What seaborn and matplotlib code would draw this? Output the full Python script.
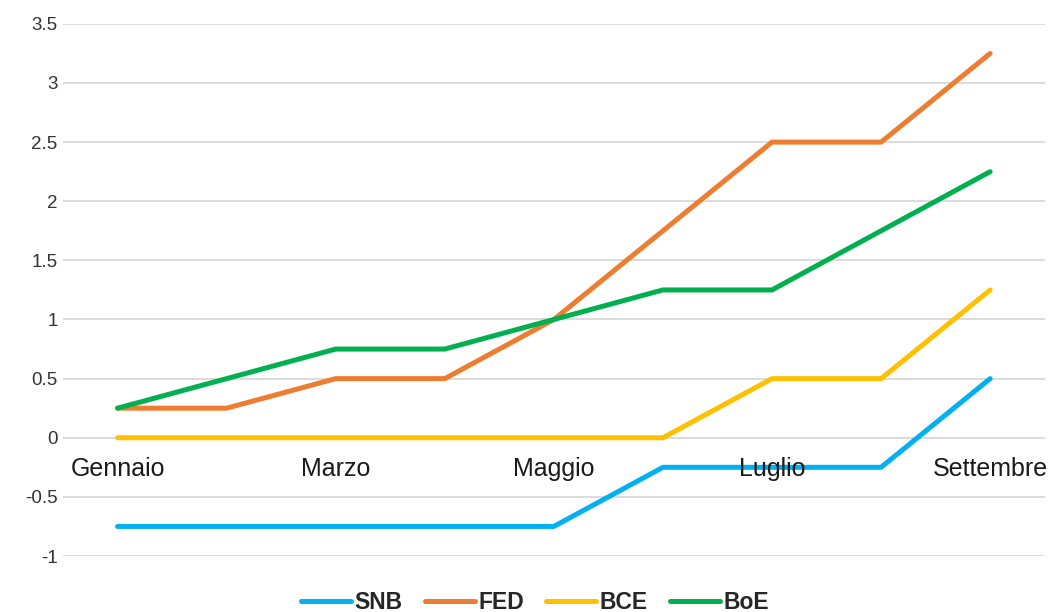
import matplotlib
matplotlib.use("Agg")
import matplotlib.pyplot as plt
import pandas as pd
import seaborn as sns

# monthly policy rates (%)
mesi = ["Gennaio", "Febbraio", "Marzo", "Aprile", "Maggio", "Giugno", "Luglio", "Agosto", "Settembre"]
snb = [-0.75, -0.75, -0.75, -0.75, -0.75, -0.25, -0.25, -0.25, 0.5]
fed = [0.25, 0.25, 0.5, 0.5, 1.0, 1.75, 2.5, 2.5, 3.25]
bce = [0, 0, 0, 0, 0, 0, 0.5, 0.5, 1.25]
boe = [0.25, 0.5, 0.75, 0.75, 1.0, 1.25, 1.25, 1.75, 2.25]
serie = ["SNB", "FED", "BCE", "BoE"]
colori = ["#00B0F0", "#ED7D31", "#FFC000", "#00B050"]
etichette_x = ["Gennaio", "", "Marzo", "", "Maggio", "", "Luglio", "", "Settembre"]

rows = []
for nome, vals in zip(serie, [snb, fed, bce, boe]):
    for i, v in enumerate(vals):
        rows.append({"pos": i, "mese": mesi[i], "tasso": v, "banca": nome})
df = pd.DataFrame(rows)

sns.set_theme(style="white")
plt.rcParams["font.family"] = ["Liberation Sans", "DejaVu Sans"]

fig = plt.figure(figsize=(10.51, 6.12), dpi=100)
ax = fig.add_axes([0.06, 0.0915, 0.934, 0.8695])

sns.lineplot(data=df, x="pos", y="tasso", hue="banca", palette=colori,
             hue_order=serie, sort=False, linewidth=3.6, ax=ax, legend=False,
             solid_capstyle="round", solid_joinstyle="round")

ax.set_xlim(-0.5, 8.5)
ax.set_ylim(-1, 3.5)
yt = [-1 + 0.5 * k for k in range(10)]
ax.set_yticks(yt)
ax.set_yticklabels([f"{v:g}" for v in yt], fontsize=13.5, color="#333333")
ax.yaxis.grid(True, color="#D9D9D9", linewidth=1.3)
ax.set_axisbelow(True)

# category labels sit on the zero line, drawn over the lines
ax.spines["bottom"].set_position(("data", 0))
for s in ["top", "right", "left", "bottom"]:
    ax.spines[s].set_visible(False)
ax.set_xticks(range(len(mesi)))
ax.set_xticklabels(etichette_x, fontsize=18, color="#1a1a1a")
ax.tick_params(axis="x", length=0, pad=14)
ax.tick_params(axis="y", length=0, pad=4)
ax.xaxis.set_zorder(5)
ax.set_xlabel("")
ax.set_ylabel("")

handles = [plt.Line2D([], [], color=c, linewidth=3.6, solid_capstyle="round") for c in colori]
fig.legend(handles, serie, loc="center", bbox_to_anchor=(0.509, 0.016), ncol=4,
           frameon=False, prop={"weight": "bold", "size": 16.5},
           handlelength=2.2, handletextpad=0.15, columnspacing=0.95, borderpad=0)

fig.savefig("out.png", dpi=100)
